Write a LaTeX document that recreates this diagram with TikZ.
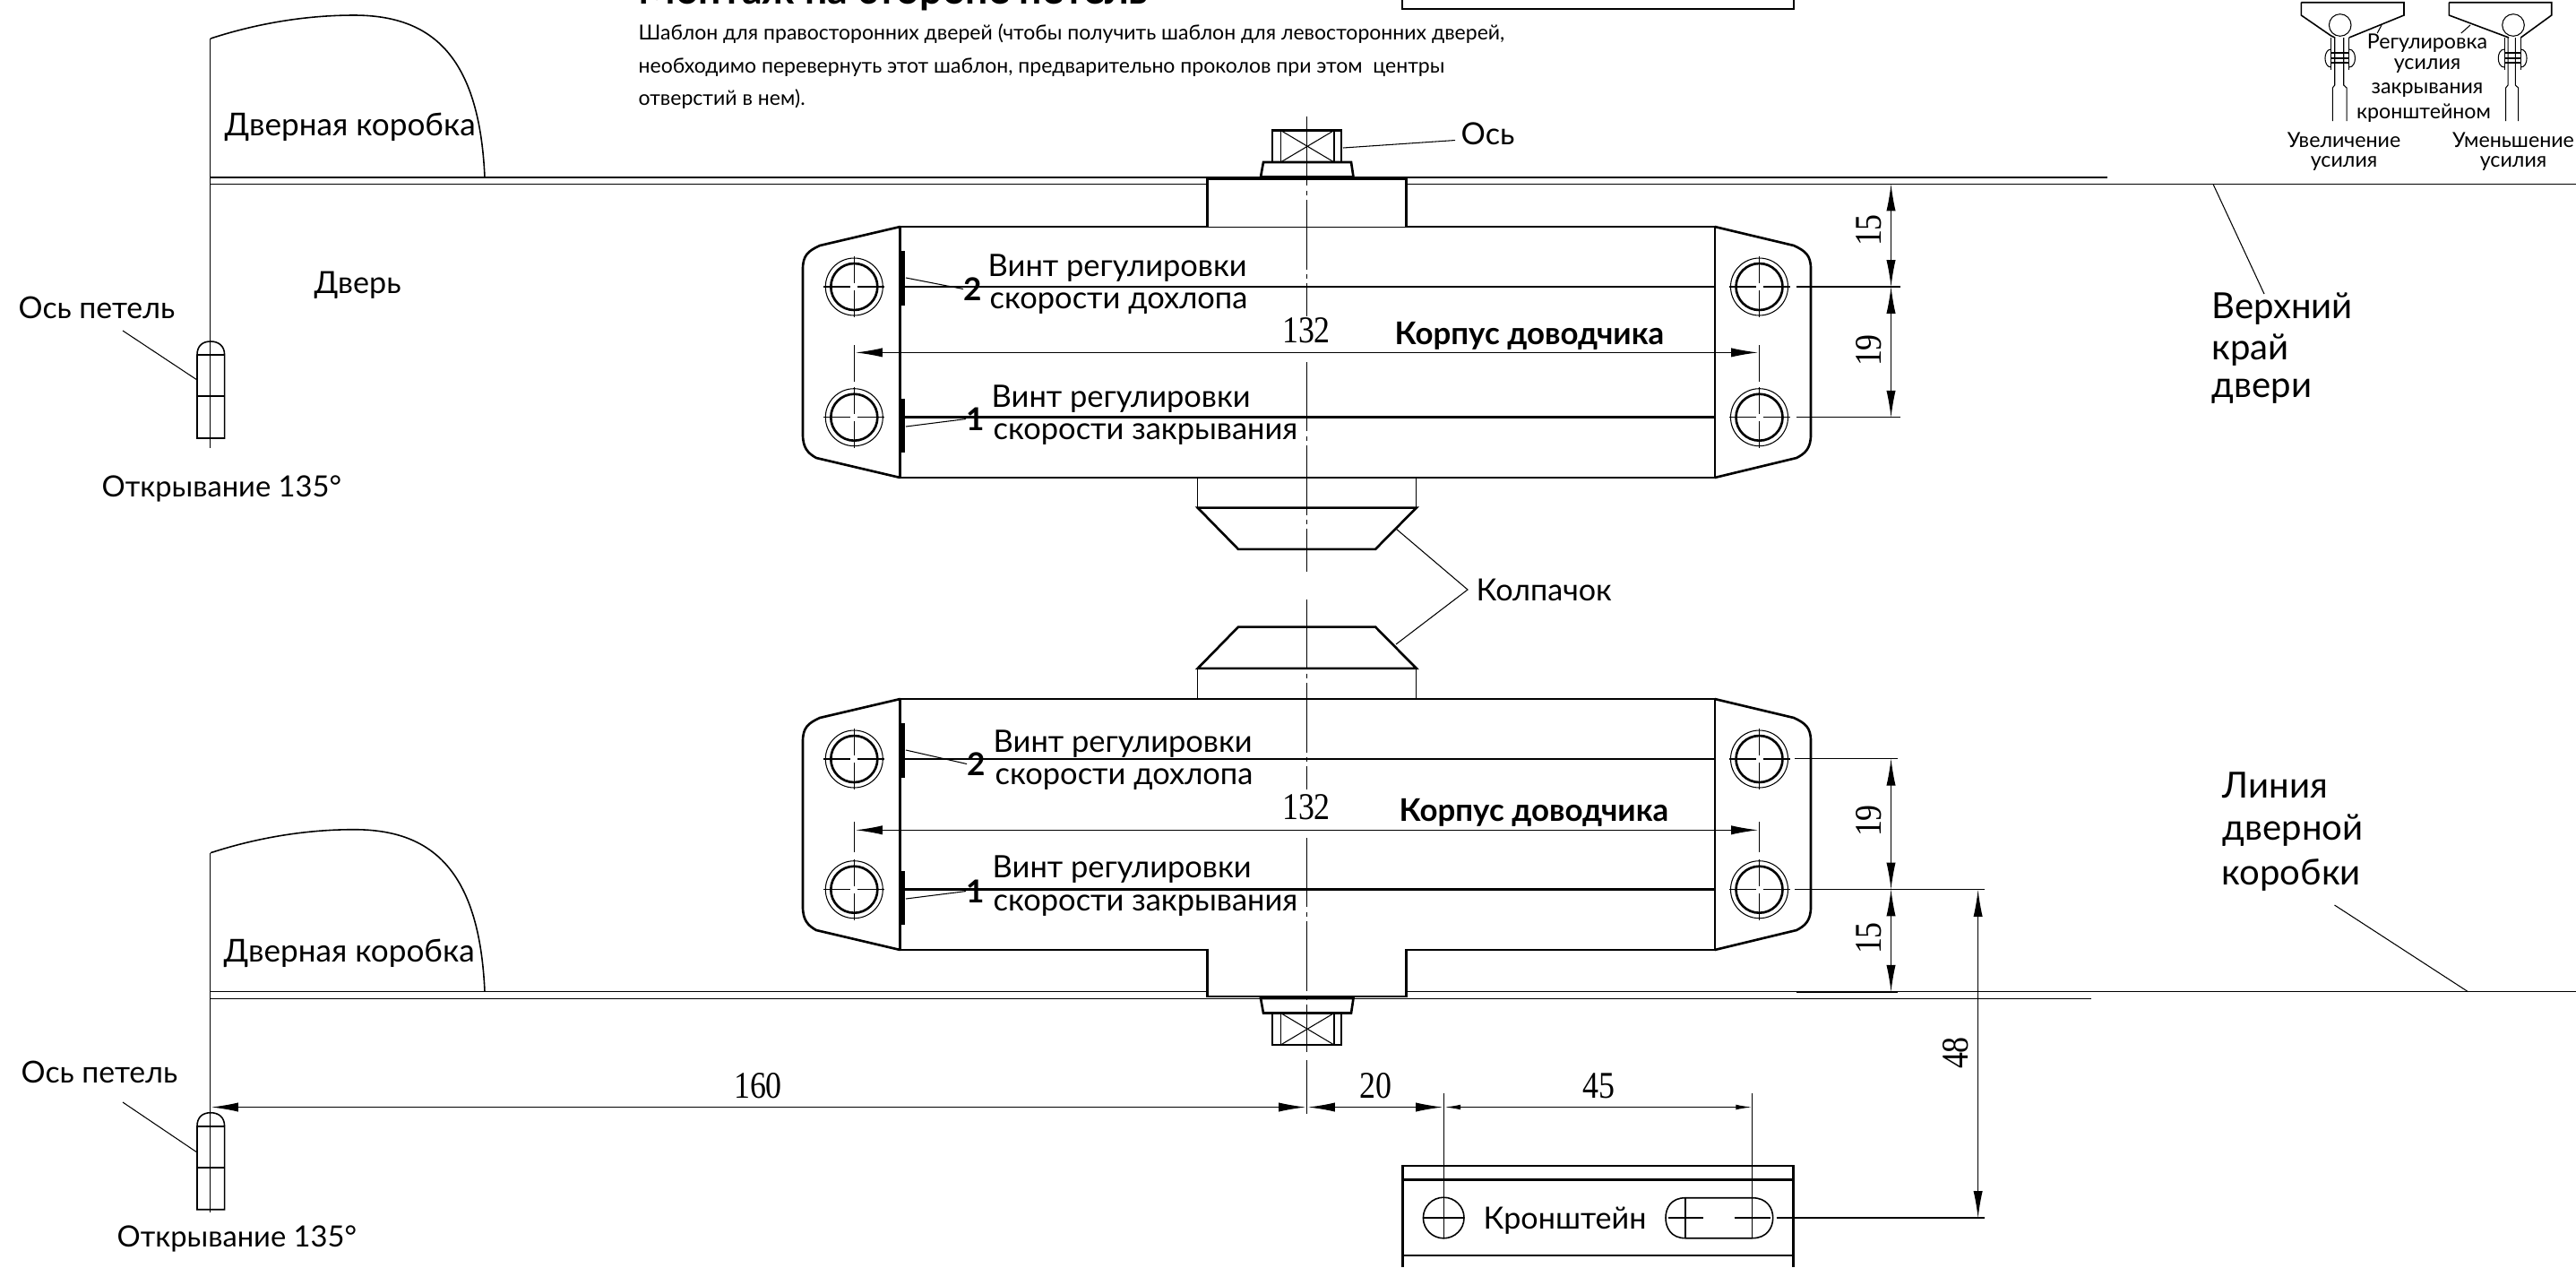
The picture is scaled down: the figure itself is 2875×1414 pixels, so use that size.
\documentclass[tikz,border=0pt]{standalone}
\usepackage{fontspec}
\setmainfont{Lato}
\newfontfamily\dimfont[FakeStretch=0.85]{Liberation Serif}
\usetikzlibrary{calc,positioning,arrows.meta}

\tikzset{
  outline/.style={line width=.75pt},
  thinline/.style={line width=.3pt},
  midline/.style={line width=.45pt},
  axisline/.style={line width=.3pt,dash pattern=on 22pt off 1.5pt on 1.5pt off 1.5pt},
  lbl/.style={inner sep=0pt,anchor=west,yshift=-1pt,font=\fontsize{9.7}{12}\selectfont},
  screwlbl/.style={lbl,font=\fontsize{9.8}{12}\selectfont},
  numlbl/.style={lbl,anchor=center,font=\fontsize{10}{12}\bfseries},
  bodylbl/.style={lbl,font=\fontsize{9.9}{12}\bfseries},
  small/.style={inner sep=0pt,font=\fontsize{6.6}{8}\selectfont},
  tmpl/.style={inner sep=0pt,anchor=west,font=\fontsize{6.55}{8}\selectfont},
  big/.style={lbl,font=\fontsize{11.4}{14}\selectfont},
  dimnum/.style={inner sep=0pt,font=\fontsize{12}{12}\dimfont},
  dimarrow/.style={thinline,<->},
  smallarrow/.style={thinline,{Latex[length=5pt,width=1.6pt]}-{Latex[length=5pt,width=1.6pt]}}
}

% door closer housing, drawn at the upper position
\newcommand{\closerbody}{
  \draw[outline] (1004.6,253) rectangle (1913.8,533);
  \draw[outline] (1004.6,253) -- (915,274) .. controls (902,280) and (896,285) .. (896,300) -- (896,485)
    .. controls (896,500) and (902,506) .. (911,511) -- (1004.6,533);
  \draw[outline] (1913.8,253) -- (2002,274) .. controls (2015,280) and (2021,285) .. (2021,300) -- (2021,485)
    .. controls (2021,500) and (2015,506) .. (2005,511) -- (1913.8,533);
  \foreach \hx in {953.3,1963.5}
    \foreach \hy in {320,465.7} {
      \draw[thinline] (\hx,\hy) circle (32);
      \draw[outline] (\hx,\hy) circle (26);
      \draw[thinline] (\hx-34,\hy) -- (\hx-4,\hy) (\hx+4,\hy) -- (\hx+34,\hy)
        (\hx,\hy-34) -- (\hx,\hy-4) (\hx,\hy+4) -- (\hx,\hy+34);
    }
  \draw[outline] (1004.6,320) -- (1913.8,320) (1004.6,465.7) -- (1913.8,465.7);
  \draw[line width=1.7pt] (1007,280) -- (1007,341) (1007,445) -- (1007,505);
}

% lug with washer and square axis end
\newcommand{\axisend}{
  \draw[outline,fill=white] (1347.4,253) -- (1347.4,199.6) -- (1569.4,199.6) -- (1569.4,253);
  \draw[outline] (1407,197.5) -- (1510.5,197.5) -- (1508,181) -- (1410,181) -- cycle;
  \draw[outline] (1420,181) rectangle (1497,145.5);
  \draw[thinline] (1429.3,145.5) -- (1429.3,181) (1489,145.5) -- (1489,181);
  \draw[thinline] (1429.3,145.5) -- (1489,181) (1489,145.5) -- (1429.3,181);
}

% cap under the housing
\newcommand{\closercap}{
  \draw[thinline] (1336.7,533) -- (1336.7,566.6) (1580.8,533) -- (1580.8,566.6);
  \draw[outline] (1336.7,566.6) -- (1580.8,566.6) -- (1535,612.9) -- (1382,612.9) -- cycle;
}

\begin{document}
\begin{tikzpicture}[x=.01cm,y=-.01cm,>={Latex[length=8.5pt,width=2.9pt]}]
\useasboundingbox (0,0) rectangle (2875,1414);

% door edges
\draw[thinline] (235,198) -- (2352,198);
\draw[thinline] (235,205.5) -- (2875,205.5);
\draw[thinline] (235,1106.7) -- (2875,1106.7);
\draw[thinline] (235,1114.3) -- (2334,1114.3);
\draw[midline] (2005,205.5) -- (2118,205.5) (2005,1106.7) -- (2118,1106.7);

% frame and hinge, top and bottom
\foreach \dy in {0,908.7}
  \draw[midline] (541,198+\dy) .. controls (535,60+\dy) and (480,17+\dy) .. (395,17+\dy)
    .. controls (345,17+\dy) and (290,25+\dy) .. (235,43+\dy);
\draw[midline] (234.7,43) -- (234.7,500);
\draw[midline] (234.7,951.7) -- (234.7,1352.7);
\foreach \dy in {0,860.7} {
  \draw[midline] (220,396+\dy) .. controls (220,386+\dy) and (226,381+\dy) .. (235,381+\dy)
    .. controls (244,381+\dy) and (250.6,386+\dy) .. (250.6,396+\dy) -- (250.6,489+\dy) -- (220,489+\dy) -- cycle;
  \draw[midline] (220,396+\dy) -- (250.6,396+\dy) (220,442+\dy) -- (250.6,442+\dy);
}

% housings
\closerbody
\begin{scope}[shift={(0,527)}]
\closerbody
\end{scope}
\axisend
\begin{scope}[shift={(0,1311.5)},yscale=-1]
\axisend
\end{scope}
\closercap
\begin{scope}[shift={(0,1312.5)},yscale=-1]
\closercap
\end{scope}

% centre axis
\draw[axisline] (1458.4,130) -- (1458.4,353);
\draw[axisline] (1458.4,404) -- (1458.4,638);
\draw[axisline] (1458.4,669) -- (1458.4,881);
\draw[axisline] (1458.4,935) -- (1458.4,1174);
\draw[thinline] (1458.5,1183) -- (1458.5,1243);

% labels on the left
\node[lbl,font=\fontsize{10}{12}\selectfont] (frametop) at (250,138) {Дверная коробка};
\node[lbl,font=\fontsize{10}{12}\selectfont] (framebot) at (249,1060) {Дверная коробка};
\node[lbl] (door) at (350,315) {Дверь};
\node[lbl,font=\fontsize{9.6}{12}\selectfont] (hingetop) at (20,340) {Ось петель};
\node[lbl,font=\fontsize{9.6}{12}\selectfont] (hingebot) at (23,1193) {Ось петель};
\node[lbl,font=\fontsize{9.3}{12}\selectfont] (opentop) at (113,542) {Открывание 135°};
\node[lbl,font=\fontsize{9.3}{12}\selectfont] (openbot) at (130,1379) {Открывание 135°};
\coordinate (hingeat) at (220,424);
\coordinate (hingebt) at (220,1286);
\draw[thinline] (137,369) -- (hingeat);
\draw[thinline] (137,1230) -- (hingebt);

% text on top
\node[inner sep=0pt,anchor=base west,font=\fontsize{12.7}{14}\bfseries] (title) at (712,4) {Монтаж на стороне петель};
\node[tmpl] (tmpla) at (712,38) {Шаблон для правосторонних дверей (чтобы получить шаблон для левосторонних дверей,};
\node[tmpl] (tmplb) at (712,75) {необходимо перевернуть этот шаблон, предварительно проколов при этом\ \ центры};
\node[tmpl] (tmplc) at (712,111) {отверстий в нем).};
\draw[outline] (1565,-10) -- (1565,10) -- (2002,10) -- (2002,-10);

% axis and cap labels
\node[lbl] (axislbl) at (1630,146) {Ось};
\coordinate (axisat) at (1499,165);
\draw[thinline] ($(axislbl.west)+(-6,7)$) -- (axisat);
\node[lbl] (caplbl) at (1647,655) {Колпачок};
\coordinate (capjoin) at (1638,658);
\coordinate (capup) at (1558,590);
\coordinate (capdn) at (1558,719);
\draw[thinline] (capup) -- (capjoin) -- (capdn);

% upper housing labels
\node[screwlbl] (upslam) at (1102,296) {Винт регулировки};
\node[screwlbl] (upslamb) at (1104,335) {скорости дохлопа};
\node[screwlbl] (upclose) at (1106,442) {Винт регулировки};
\node[screwlbl] (upcloseb) at (1108,481) {скорости закрывания};
\node[numlbl] (uptwo) at (1086,319) {2};
\node[numlbl] (upone) at (1089,464) {1};
\draw[thinline] (uptwo.west) -- (1011,310);
\draw[thinline] (upone.west) -- (1011,476);
\node[dimnum] (upsize) at (1458,369) {132};
\node[bodylbl] (upbody) at (1556,371) {Корпус доводчика};
\draw[dimarrow] (955,393.4) -- (1962,393.4);
\draw[thinline] (953.3,385) -- (953.3,426) (1963.5,385) -- (1963.5,426);

% lower housing labels
\node[screwlbl] (loslam) at (1108,827) {Винт регулировки};
\node[screwlbl] (loslamb) at (1110,866) {скорости дохлопа};
\node[screwlbl] (loclose) at (1107,967) {Винт регулировки};
\node[screwlbl] (locloseb) at (1108,1007) {скорости закрывания};
\node[numlbl] (lotwo) at (1090,849) {2};
\node[numlbl] (loone) at (1089,991) {1};
\draw[thinline] (lotwo.west) -- (1011,837);
\draw[thinline] (loone.west) -- (1011,1003);
\node[dimnum] (losize) at (1458,901) {132};
\node[bodylbl] (lobody) at (1561,903) {Корпус доводчика};
\draw[dimarrow] (955,926.3) -- (1962,926.3);
\draw[thinline] (953.3,917) -- (953.3,951) (1963.5,917) -- (1963.5,951);

% right hand dimensions, upper
\draw[thinline] (2005,320) -- (2121,320) (2005,465.7) -- (2121,465.7);
\draw[dimarrow] (2110.5,205.5) -- (2110.5,320);
\draw[dimarrow] (2110.5,320) -- (2110.5,465.7);
\node[dimnum,rotate=90] (upfifteen) at (2086,257) {15};
\node[dimnum,rotate=90] (upnineteen) at (2086,391) {19};

% right hand dimensions, lower
\draw[thinline] (2003,846.7) -- (2118,846.7) (2003,992.4) -- (2215,992.4);
\draw[midline] (2005,992.4) -- (2118,992.4);
\draw[dimarrow] (2110.5,846.7) -- (2110.5,992.4);
\draw[dimarrow] (2110.5,992.4) -- (2110.5,1106.7);
\node[dimnum,rotate=90] (lonineteen) at (2086,916) {19};
\node[dimnum,rotate=90] (lofifteen) at (2086,1047) {15};
\draw[dimarrow] (2207.6,993) -- (2207.6,1359);
\node[dimnum,rotate=90] (bracketh) at (2183,1175) {48};

% labels on the right
\node[big] (edgea) at (2468,341) {Верхний};
\node[big] (edgeb) at (2468,387) {край};
\node[big] (edgec) at (2468,433) {двери};
\coordinate (edgeat) at (2470,205.5);
\draw[thinline] (edgeat) -- (2527,328);
\node[big] (linea) at (2480,873) {Линия};
\node[big] (lineb) at (2480,923) {дверной};
\node[big] (linec) at (2479,973) {коробки};
\coordinate (lineat) at (2754.5,1106.7);
\draw[thinline] (2605.5,1010) -- (lineat);

% bottom dimensions
\node[dimnum] (dimsixty) at (846,1212) {160};
\node[dimnum] (dimtwenty) at (1535,1212) {20};
\node[dimnum] (dimfortyfive) at (1784,1212) {45};
\draw[dimarrow] (236,1235.5) -- (1457,1235.5);
\draw[dimarrow] (1460,1235.5) -- (1610,1235.5);
\draw[smallarrow] (1612.5,1235.5) -- (1955,1235.5);
\draw[thinline] (1611.2,1220) -- (1611.2,1382) (1955.7,1220) -- (1955.7,1381.7);

% bracket
\draw[outline] (1565.3,1414) -- (1565.3,1301) -- (2001.6,1301) -- (2001.6,1414);
\draw[outline] (1565.3,1316.7) -- (2001.6,1316.7) (1565.3,1401) -- (2001.6,1401);
\draw[midline] (1611.2,1359) circle (22.8);
\draw[thinline] (1589,1359) -- (1633,1359);
\draw[midline] (1881,1336.7) -- (1955.7,1336.7) .. controls (1972,1336.7) and (1978.7,1348) .. (1978.7,1359)
  .. controls (1978.7,1370) and (1972,1381.7) .. (1955.7,1381.7) -- (1881,1381.7)
  .. controls (1865,1381.7) and (1859,1370) .. (1859,1359) .. controls (1859,1348) and (1865,1336.7) .. (1881,1336.7) -- cycle;
\draw[thinline] (1862,1359) -- (1901,1359) (1935.6,1359) -- (1975.8,1359) (1881,1336.7) -- (1881,1381.7);
\draw[thinline] (1982.7,1359) -- (2215,1359);
\node[lbl] (bracket) at (1655,1359) {Кронштейн};

% adjustment sketch, top right corner
\foreach \vl/\vr/\cx in {2601.7/2621.7/2611.7,2795/2813.3/2805} {
  \draw[thinline] (\cx,28) circle (12.3);
  \draw[thinline] (\vl,42) -- (\vl,78) (\vr,42) -- (\vr,78);
  \draw[thinline] (\vl+4,42) -- (\vl+4,95) -- (\vl+1.6,98) -- (\vl+1.6,135);
  \draw[thinline] (\vr-6,42) -- (\vr-6,95) -- (\vr-2.7,98) -- (\vr-2.7,135);
  \draw[thinline] (\vl,59) -- (\vr,59) (\vl,65) -- (\vr,65) (\vl,70) -- (\vr,70);
  \draw[thinline] (\vl,55) .. controls (\vl-9,55) and (\vl-9,75) .. (\vl,75);
  \draw[thinline] (\vr,55) .. controls (\vr+9,55) and (\vr+9,75) .. (\vr,75);
}
\draw[midline] (2568.3,2.7) -- (2683,2.7) -- (2683,17) -- (2621.7,42) (2568.3,2.7) -- (2568.3,17) -- (2601.7,40) -- (2606,42);
\draw[midline] (2733.3,2.7) -- (2847.7,2.7) -- (2847.7,17) -- (2813.3,42) (2733.3,2.7) -- (2733.3,17) -- (2800,42);
\node[small] (adjusta) at (2709,48) {Регулировка};
\node[small] (adjustb) at (2709,74) {усилия};
\node[small] (adjustc) at (2709,100.5) {закрывания};
\node[small] (adjustd) at (2705,126) {кронштейном};
\draw[thinline] ($(adjusta.north west)+(12,0)$) -- (2658,28);
\draw[thinline] ($(adjusta.north east)+(-30,0)$) -- (2757,28);
\node[small] (morea) at (2616,156) {Увеличение};
\node[small] (moreb) at (2616,182.5) {усилия};
\node[small] (lessa) at (2805,156) {Уменьшение};
\node[small] (lessb) at (2805,182.5) {усилия};
\end{tikzpicture}
\end{document}
